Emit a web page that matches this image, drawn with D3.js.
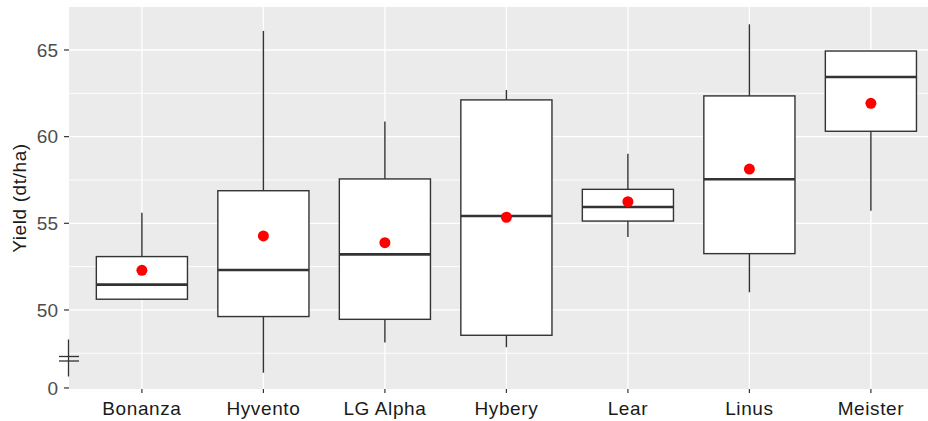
<!DOCTYPE html>
<html>
<head>
<meta charset="utf-8">
<script src="https://cdn.jsdelivr.net/npm/d3@7"></script>
<style>
  html, body { margin: 0; padding: 0; background: #fff; }
  svg { display: block; font-family: "Liberation Sans", Arial, sans-serif; }
</style>
</head>
<body>
<svg id="chart" width="928" height="421"></svg>
<script>
// Varieties along the x axis
const varieties = ["Bonanza", "Hyvento", "LG Alpha", "Hybery", "Lear", "Linus", "Meister"];

// Five-number summaries per variety (dt/ha)
const lowerWhisker = [50.62, 46.38, 48.13, 47.85, 54.21, 51.02, 55.73];
const lowerQuartile = [50.62, 49.62, 49.46, 48.54, 55.13, 53.25, 60.31];
const medianYield = [51.46, 52.31, 53.21, 55.42, 55.94, 57.54, 63.44];
const upperQuartile = [53.08, 56.88, 57.56, 62.12, 56.96, 62.35, 64.94];
const upperWhisker = [55.61, 66.10, 60.87, 62.69, 59.02, 66.48, 64.94];

// Mean yield per variety (red points)
const meanYield = [52.29, 54.27, 53.88, 55.35, 56.25, 58.13, 61.92];

// Y axis: the "0" tick sits below the axis break
const yTickValues = [45.5, 50, 55, 60, 65];
const yTickLabels = ["0", "50", "55", "60", "65"];
const yMinorValues = [47.5, 52.5, 57.5, 62.5];
const axisBreakValue = 47.2;

const W = 928, H = 421;
const panel = { left: 69, top: 7, bottom: 389 };
const step = 121.5;
const panelRight = panel.left + step * (varieties.length - 1 + 1.2);

const svg = d3.select("#chart");

const x = d3.scalePoint()
  .domain(varieties)
  .range([panel.left + 0.6 * step, panelRight - 0.6 * step]);

const y = d3.scaleLinear()
  .domain([45.44, 67.48])
  .range([panel.bottom, panel.top]);

const boxWidth = 0.75 * step;

svg.append("defs").append("clipPath").attr("id", "clip")
  .append("rect").attr("x", 0).attr("y", 0).attr("width", W).attr("height", H);

const plot = svg.append("g").attr("clip-path", "url(#clip)");

// Panel background
plot.append("rect")
  .attr("x", panel.left).attr("y", panel.top)
  .attr("width", panelRight - panel.left).attr("height", panel.bottom - panel.top)
  .attr("fill", "#EBEBEB");

// Minor grid
plot.append("g").selectAll("line").data(yMinorValues).join("line")
  .attr("x1", panel.left).attr("x2", panelRight)
  .attr("y1", d => y(d)).attr("y2", d => y(d))
  .attr("stroke", "#fff").attr("stroke-width", 0.9);

// Major grid
plot.append("g").selectAll("line").data(yTickValues.slice(1)).join("line")
  .attr("x1", panel.left).attr("x2", panelRight)
  .attr("y1", d => y(d)).attr("y2", d => y(d))
  .attr("stroke", "#fff").attr("stroke-width", 1.3);

plot.append("g").selectAll("line").data(varieties).join("line")
  .attr("x1", d => x(d)).attr("x2", d => x(d))
  .attr("y1", panel.top).attr("y2", panel.bottom)
  .attr("stroke", "#fff").attr("stroke-width", 1.3);

// Boxplots
const rows = varieties.map((v, i) => ({
  v, lo: lowerWhisker[i], q1: lowerQuartile[i], med: medianYield[i],
  q3: upperQuartile[i], hi: upperWhisker[i], mean: meanYield[i]
}));

const boxes = plot.append("g").selectAll("g").data(rows).join("g");

boxes.append("line")
  .attr("x1", d => x(d.v)).attr("x2", d => x(d.v))
  .attr("y1", d => y(d.q3)).attr("y2", d => y(d.hi))
  .attr("stroke", "#333").attr("stroke-width", 1.4);

boxes.append("line")
  .attr("x1", d => x(d.v)).attr("x2", d => x(d.v))
  .attr("y1", d => y(d.q1)).attr("y2", d => y(d.lo))
  .attr("stroke", "#333").attr("stroke-width", 1.4);

boxes.append("rect")
  .attr("x", d => x(d.v) - boxWidth / 2).attr("width", boxWidth)
  .attr("y", d => y(d.q3)).attr("height", d => y(d.q1) - y(d.q3))
  .attr("fill", "#fff").attr("stroke", "#333").attr("stroke-width", 1.4);

boxes.append("line")
  .attr("x1", d => x(d.v) - boxWidth / 2).attr("x2", d => x(d.v) + boxWidth / 2)
  .attr("y1", d => y(d.med)).attr("y2", d => y(d.med))
  .attr("stroke", "#333").attr("stroke-width", 2.6);

boxes.append("circle")
  .attr("cx", d => x(d.v)).attr("cy", d => y(d.mean))
  .attr("r", 5.5).attr("fill", "#FF0000");

// Y axis ticks and labels
const yAxis = svg.append("g");
yAxis.selectAll("line").data(yTickValues).join("line")
  .attr("x1", panel.left - 5).attr("x2", panel.left)
  .attr("y1", d => y(d)).attr("y2", d => y(d))
  .attr("stroke", "#333").attr("stroke-width", 1.2);
yAxis.selectAll("text").data(yTickValues).join("text")
  .attr("x", panel.left - 11).attr("y", d => y(d))
  .attr("dy", "0.36em").attr("text-anchor", "end")
  .attr("font-size", 19).attr("fill", "#4D4D4D")
  .text((d, i) => yTickLabels[i]);

// Axis break marker
const by = y(axisBreakValue);
const brk = svg.append("g").attr("stroke", "#333").attr("stroke-width", 1.3);
brk.append("line").attr("x1", panel.left - 0.5).attr("x2", panel.left - 0.5)
  .attr("y1", by - 19).attr("y2", by + 18);
brk.append("line").attr("x1", panel.left - 10).attr("x2", panel.left + 10)
  .attr("y1", by - 2).attr("y2", by - 2);
brk.append("line").attr("x1", panel.left - 10).attr("x2", panel.left + 10)
  .attr("y1", by + 2.5).attr("y2", by + 2.5);

// X axis ticks and labels
const xAxis = svg.append("g");
xAxis.selectAll("line").data(varieties).join("line")
  .attr("x1", d => x(d)).attr("x2", d => x(d))
  .attr("y1", panel.bottom).attr("y2", panel.bottom + 4)
  .attr("stroke", "#333").attr("stroke-width", 1.2);
xAxis.selectAll("text").data(varieties).join("text")
  .attr("x", d => x(d)).attr("y", 415)
  .attr("text-anchor", "middle")
  .attr("font-size", 19).attr("letter-spacing", 0.6).attr("fill", "#1a1a1a")
  .text(d => d);

// Y axis title
svg.append("text")
  .attr("transform", `translate(26, ${(panel.top + panel.bottom) / 2}) rotate(-90)`)
  .attr("text-anchor", "middle")
  .attr("font-size", 19).attr("letter-spacing", 0.6).attr("fill", "#1a1a1a")
  .text("Yield (dt/ha)");
</script>
</body>
</html>
